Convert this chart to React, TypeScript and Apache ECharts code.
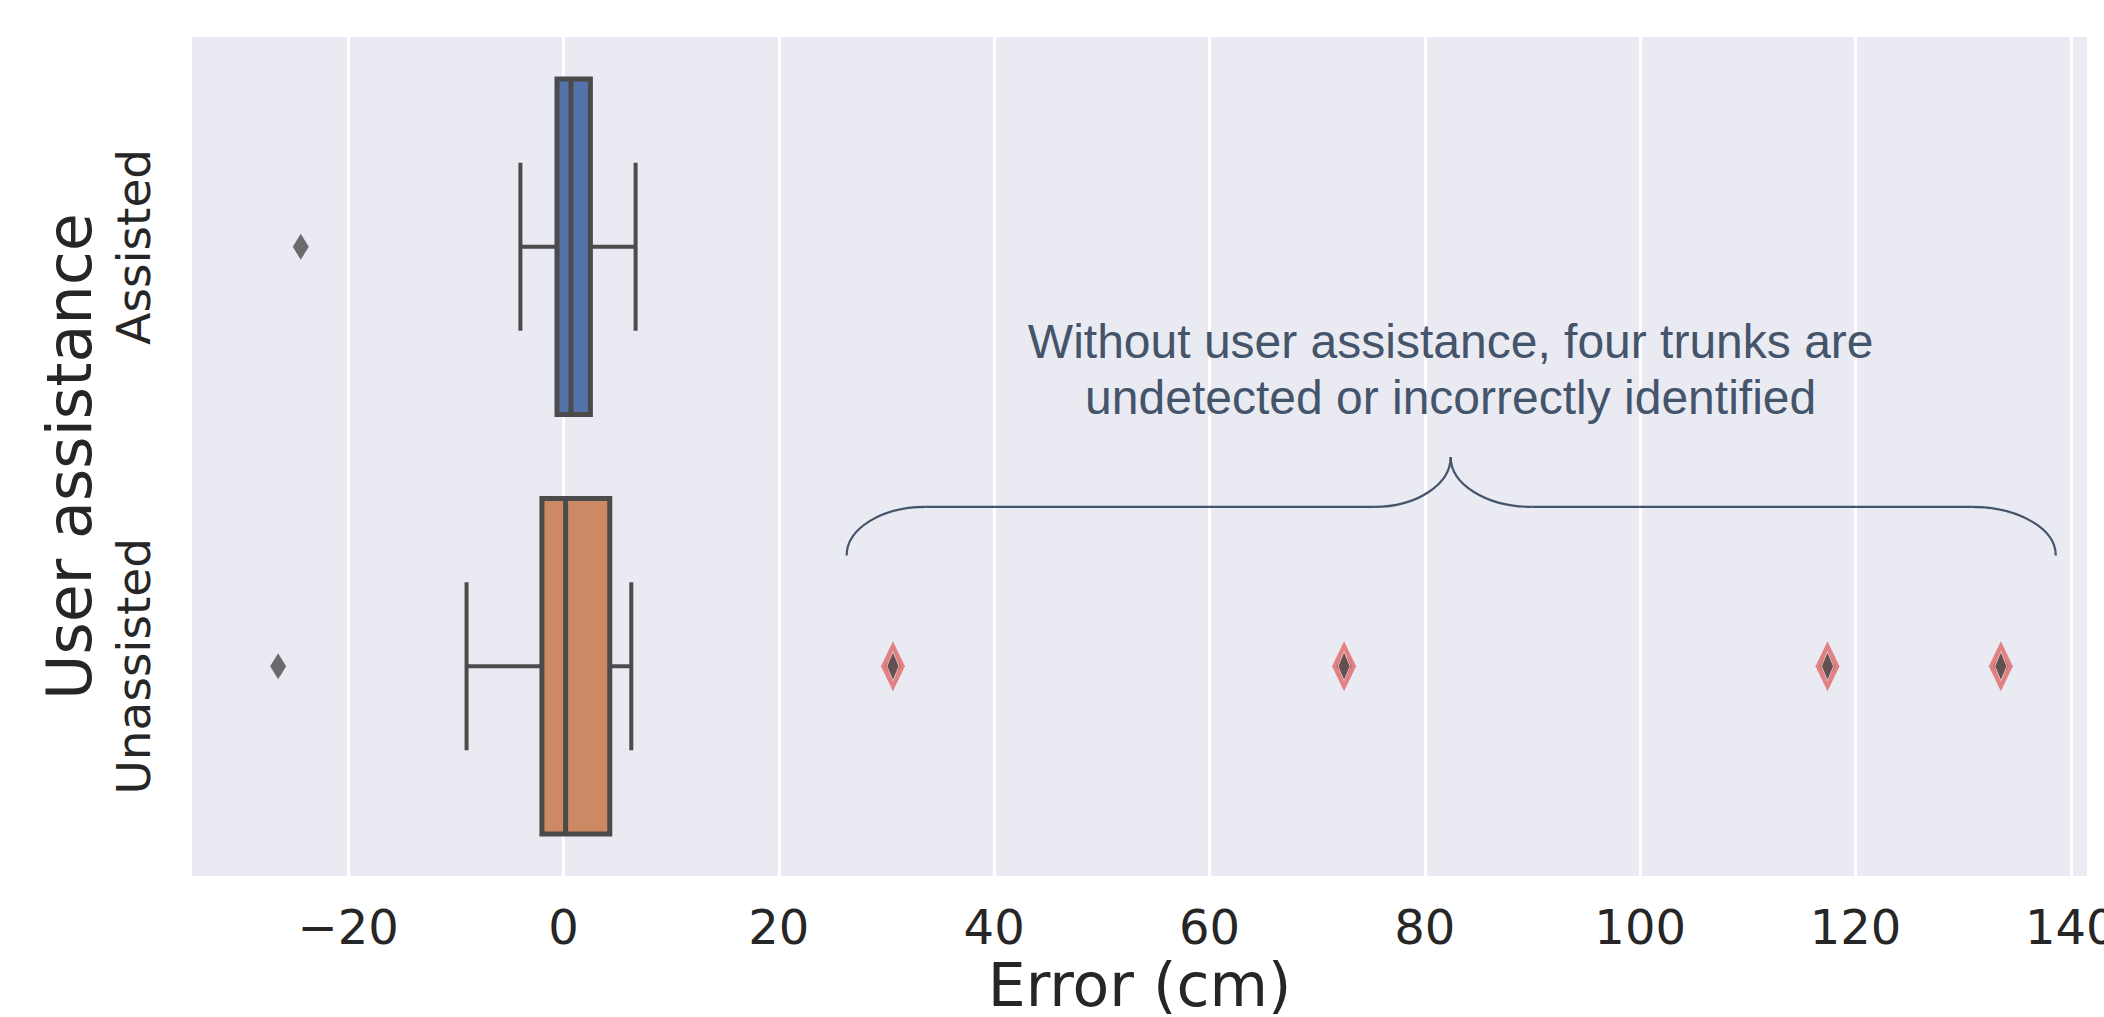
import React, { useEffect, useRef } from 'react';
import * as echarts from 'echarts';

// ---- data ----
const categories = ['Assisted', 'Unassisted'];
// [low whisker, Q1, median, Q3, high whisker]
const assistedBox = [-4.0, -0.6, 0.7, 2.5, 6.7];
const unassistedBox = [-9.0, -2.0, 0.2, 4.3, 6.3];
const assistedOutliers = [-24.4];
const unassistedOutliers = [-26.5, 30.6, 72.5, 117.4, 133.5];
const highlightedOutliers = [30.6, 72.5, 117.4, 133.5];
const boxColors = ['#5473ab', '#cc8963'];
const xMin = -34.5;
const xMax = 141.5;
const xTitle = 'Error (cm)';
const yTitle = 'User assistance';
const annotationLines = [
  'Without user assistance, four trunks are',
  'undetected or incorrectly identified',
];
// brace: left end, left corner, mid-left, tip, mid-right, right corner, right end
const braceX = [26.3, 33.6, 75.3, 82.4, 89.9, 130.8, 138.6];

const LINE = '#4b4b4b';
const TEXT = '#262626';
const ANNOT = '#44546a';
const FONT = 'DejaVu Sans';

export default function App() {
  const ref = useRef<HTMLDivElement>(null);

  useEffect(() => {
    if (!ref.current) return;
    const chart = echarts.init(ref.current, undefined, { renderer: 'svg' });

    const boxData = [
      [0, ...assistedBox],
      [1, ...unassistedBox],
    ];
    const outlierData = [
      ...assistedOutliers.map((v) => [v, 0]),
      ...unassistedOutliers.map((v) => [v, 1]),
    ];
    const highlightData = highlightedOutliers.map((v) => [v, 1]);

    const boxRender = (params: any, api: any) => {
      const cat = api.value(0);
      const low = api.value(1);
      const q1 = api.value(2);
      const med = api.value(3);
      const q3 = api.value(4);
      const high = api.value(5);
      const yc = api.coord([0, cat])[1];
      const band = Math.abs(api.coord([0, 1])[1] - api.coord([0, 0])[1]);
      const x = (v: number) => api.coord([v, cat])[0];
      const bh = band * 0.8;
      const ch = band * 0.4;
      const ws = { stroke: LINE, lineWidth: 4, fill: 'none' };
      return {
        type: 'group',
        children: [
          { type: 'line', shape: { x1: x(low), y1: yc, x2: x(q1), y2: yc }, style: ws },
          { type: 'line', shape: { x1: x(q3), y1: yc, x2: x(high), y2: yc }, style: ws },
          { type: 'line', shape: { x1: x(low), y1: yc - ch / 2, x2: x(low), y2: yc + ch / 2 }, style: ws },
          { type: 'line', shape: { x1: x(high), y1: yc - ch / 2, x2: x(high), y2: yc + ch / 2 }, style: ws },
          {
            type: 'rect',
            shape: { x: x(q1), y: yc - bh / 2, width: x(q3) - x(q1), height: bh },
            style: { fill: boxColors[params.dataIndex], stroke: LINE, lineWidth: 5 },
          },
          { type: 'line', shape: { x1: x(med), y1: yc - bh / 2, x2: x(med), y2: yc + bh / 2 }, style: { stroke: LINE, lineWidth: 5, fill: 'none' } },
        ],
      };
    };

    const braceRender = (params: any, api: any) => {
      const cat = api.value(1);
      const yc = api.coord([0, cat])[1];
      const band = Math.abs(api.coord([0, 1])[1] - api.coord([0, 0])[1]);
      const p = braceX.map((v) => api.coord([v, cat])[0]);
      const [x0, x1, x2, x3, x4, x5, x6] = p;
      const yEnd = yc - 0.264 * band;
      const yFlat = yc - 0.38 * band;
      const yTip = yc - 0.499 * band;
      const k = 0.5523;
      const st = { stroke: ANNOT, lineWidth: 2.2, fill: 'none' };
      const ts = (text: string) => ({
        text,
        fill: ANNOT,
        fontSize: 48,
        fontFamily: 'Liberation Sans',
        align: 'center',
        verticalAlign: 'middle',
      });
      return {
        type: 'group',
        children: [
          {
            type: 'bezierCurve',
            shape: { x1: x0, y1: yEnd, cpx1: x0, cpy1: yEnd - k * (yEnd - yFlat), cpx2: x1 - k * (x1 - x0), cpy2: yFlat, x2: x1, y2: yFlat },
            style: st,
          },
          { type: 'line', shape: { x1: x1, y1: yFlat, x2: x2, y2: yFlat }, style: st },
          {
            type: 'bezierCurve',
            shape: { x1: x2, y1: yFlat, cpx1: x2 + k * (x3 - x2), cpy1: yFlat, cpx2: x3, cpy2: yTip + k * (yFlat - yTip), x2: x3, y2: yTip },
            style: st,
          },
          {
            type: 'bezierCurve',
            shape: { x1: x3, y1: yTip, cpx1: x3, cpy1: yTip + k * (yFlat - yTip), cpx2: x4 - k * (x4 - x3), cpy2: yFlat, x2: x4, y2: yFlat },
            style: st,
          },
          { type: 'line', shape: { x1: x4, y1: yFlat, x2: x5, y2: yFlat }, style: st },
          {
            type: 'bezierCurve',
            shape: { x1: x5, y1: yFlat, cpx1: x5 + k * (x6 - x5), cpy1: yFlat, cpx2: x6, cpy2: yEnd - k * (yEnd - yFlat), x2: x6, y2: yEnd },
            style: st,
          },
          { type: 'text', x: x3, y: yc - 0.774 * band, style: ts(annotationLines[0]) },
          { type: 'text', x: x3, y: yc - 0.64 * band, style: ts(annotationLines[1]) },
        ],
      };
    };

    chart.setOption({
      animation: false,
      backgroundColor: '#ffffff',
      grid: {
        left: 192,
        right: 17,
        top: 37,
        bottom: 141,
        show: true,
        backgroundColor: '#eaeaf2',
        borderWidth: 0,
        containLabel: false,
        outerBoundsMode: 'none',
      },
      xAxis: {
        type: 'value',
        min: xMin,
        max: xMax,
        splitNumber: 8,
        name: xTitle,
        nameLocation: 'middle',
        nameGap: 79,
        nameMoveOverlap: false,
        nameTextStyle: { fontSize: 60, color: TEXT, fontFamily: FONT },
        axisLine: { show: false },
        axisTick: { show: false },
        axisLabel: {
          fontSize: 48,
          color: TEXT,
          fontFamily: FONT,
          margin: 27,
          showMinLabel: false,
          showMaxLabel: false,
          hideOverlap: false,
          formatter: (v: number) => (v < 0 ? '\u2212' + Math.abs(v) : String(v)),
        },
        splitLine: {
          show: true,
          showMinLine: false,
          showMaxLine: false,
          lineStyle: { color: '#ffffff', width: 3 },
        },
      },
      yAxis: {
        type: 'category',
        data: categories,
        inverse: true,
        name: yTitle,
        nameLocation: 'middle',
        nameGap: 92,
        nameRotate: 90,
        nameMoveOverlap: false,
        nameTextStyle: { fontSize: 62, color: TEXT, fontFamily: FONT },
        axisLine: { show: false },
        axisTick: { show: false },
        splitLine: { show: false },
        axisLabel: {
          rotate: 90,
          fontSize: 47,
          color: TEXT,
          fontFamily: FONT,
          margin: 35,
        },
      },
      series: [
        {
          type: 'custom',
          renderItem: boxRender,
          data: boxData,
          encode: { x: [1, 2, 3, 4, 5], y: 0 },
          z: 2,
          silent: true,
        },
        {
          type: 'scatter',
          data: outlierData,
          symbol: 'diamond',
          symbolSize: [16, 26],
          itemStyle: { color: LINE },
          z: 3,
          silent: true,
        },
        {
          type: 'scatter',
          data: highlightData,
          symbol: 'diamond',
          symbolSize: [24, 50],
          itemStyle: { color: '#e06666' },
          z: 4,
          silent: true,
        },
        {
          type: 'scatter',
          data: highlightData,
          symbol: 'diamond',
          symbolSize: [12, 29],
          itemStyle: { color: LINE, borderColor: '#f3e3e3', borderWidth: 1 },
          z: 5,
          silent: true,
        },
        {
          type: 'custom',
          renderItem: braceRender,
          data: [[braceX[3], 1]],
          encode: { x: 0, y: 1 },
          z: 6,
          silent: true,
        },
      ],
    });

    return () => {
      chart.dispose();
    };
  }, []);

  return (
    <div
      ref={ref}
      style={{ position: 'absolute', left: 0, top: 0, width: 2104, height: 1017 }}
    />
  );
}
